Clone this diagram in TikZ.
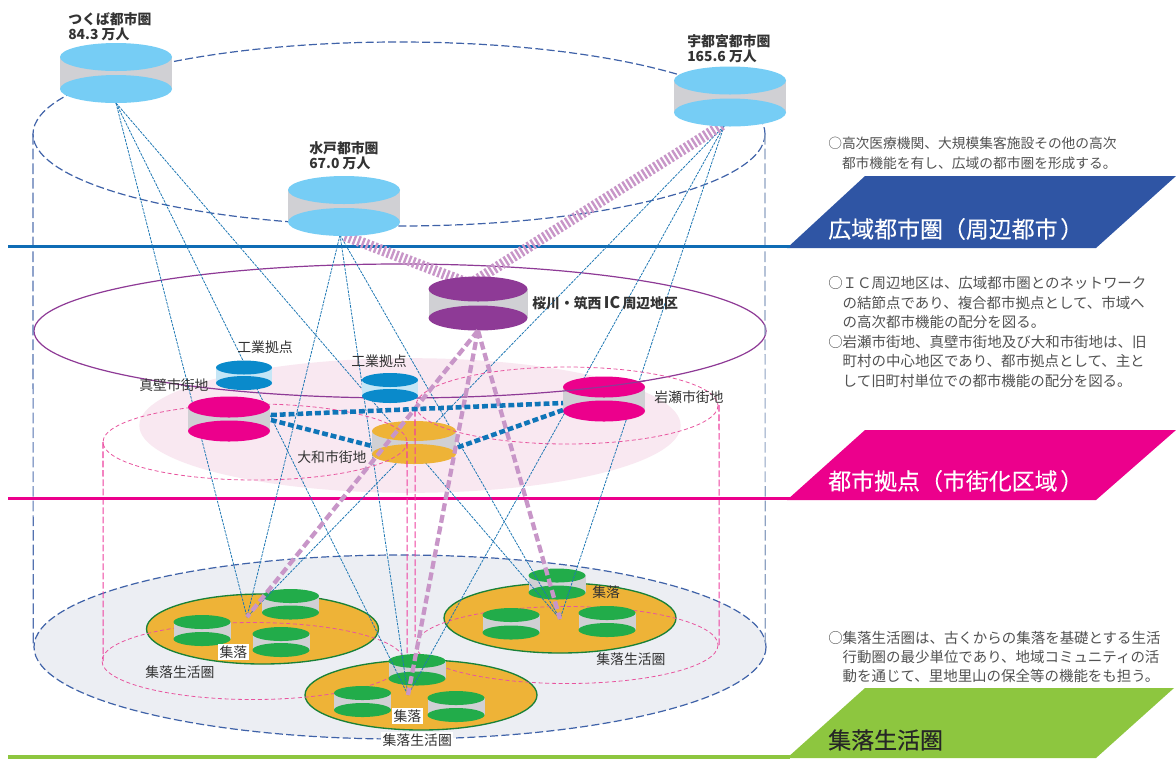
\documentclass[tikz,border=0pt]{standalone}
\usepackage{fontspec}
\setmainfont{Noto Sans CJK JP}
\newfontfamily\titlefont[FakeBold=0.25]{Noto Sans CJK JP}
\usetikzlibrary{shapes.geometric}
\pgfdeclarelayer{lbase}\pgfdeclarelayer{lgreen}\pgfdeclarelayer{llines}\pgfdeclarelayer{lcyl}\pgfdeclarelayer{lover}
\pgfsetlayers{lbase,lgreen,llines,lcyl,lover,main}
\definecolor{cblue}{HTML}{76CDF5}\definecolor{cside}{HTML}{D0D0D4}
\definecolor{cpurple}{HTML}{8E3A96}\definecolor{cind}{HTML}{0A8ACB}\definecolor{cindside}{HTML}{C5E6F6}
\definecolor{cmag}{HTML}{EC008C}\definecolor{corange}{HTML}{EEB337}\definecolor{cgreen}{HTML}{22AC4A}
\definecolor{cdash}{HTML}{3F62A8}\definecolor{cpink}{HTML}{E8559F}\definecolor{clink}{HTML}{1F78B4}
\definecolor{chatch}{HTML}{C896C8}\definecolor{cthick}{HTML}{0F75B8}\definecolor{ctxt}{HTML}{333333}
\definecolor{cbandblue}{HTML}{2F55A4}\definecolor{cbandgreen}{HTML}{8DC63F}\definecolor{cline}{HTML}{0F6CB5}
\definecolor{cplate}{HTML}{F9E8F1}\definecolor{cgray}{HTML}{ECEEF3}
\definecolor{csideL}{HTML}{5472B0}\definecolor{csideR}{HTML}{8EA2C2}\definecolor{cdrop}{HTML}{EE3F9F}
\tikzset{
 disc/.style={ellipse,inner sep=0pt,outer sep=0pt},
 biglabel/.style={inner sep=0pt,anchor=west,text=ctxt,font=\fontsize{10.4}{11.5}\selectfont\bfseries,align=left},
 smalllabel/.style={inner sep=0pt,anchor=west,text=ctxt,font=\fontsize{10.4}{12}\selectfont},
 whitelabel/.style={smalllabel,fill=white,inner sep=1pt},
 note/.style={inner sep=0pt,anchor=north west,align=left,text=ctxt!85!white},
 bandtitle/.style={inner sep=0pt,anchor=west,font=\fontsize{17.2}{20}\titlefont},
 thinlink/.style={draw=clink,line width=0.6pt,dash pattern=on 2pt off 0.8pt},
 hatch/.style={draw=chatch,line width=8pt,dash pattern=on 1.8pt off 1.6pt},
 purplelink/.style={draw=chatch,line width=3.2pt,dash pattern=on 6pt off 2.8pt},
 thicklink/.style={draw=cthick,line width=3.4pt,dash pattern=on 4.4pt off 2.2pt},
 bigring/.style={draw=cdash,line width=0.9pt,dash pattern=on 6pt off 2.5pt},
 pinkring/.style={draw=cpink,line width=0.6pt,dash pattern=on 3pt off 2pt},
 pinkdrop/.style={draw=cdrop,line width=0.8pt,dash pattern=on 5pt off 2pt},
 sideline/.style={line width=0.9pt,dash pattern=on 8pt off 3pt},
 hamlet/.style={disc,fill=corange,draw=cgreen!75!black,line width=1pt,minimum width=174pt,minimum height=52.5pt},
}
% name, cx, top cy, bottom cy, rx, ry, fill, side
\newcommand\cylinder[8]{%
 \fill[#8] ({#2-#5},#3) rectangle ({#2+#5},#4);
 \node[disc,fill=#7,minimum width={1.5*#5 pt},minimum height={1.5*#6 pt}] (#1-b) at (#2,#4) {};
 \node[disc,fill=#7,minimum width={1.5*#5 pt},minimum height={1.5*#6 pt}] (#1-t) at (#2,#3) {};
}
\begin{document}
\begin{tikzpicture}[x=0.75pt,y=-0.75pt]
\useasboundingbox (0,0) rectangle (1176,758);
\begin{pgfonlayer}{lbase}
\fill[white] (0,0) rectangle (1176,758);
% bottom level
\node[disc,fill=cgray,minimum width=549pt,minimum height=138pt,draw=none] (lowring) at (400,647) {};
\draw[bigring] (400,647) ellipse [x radius=366,y radius=92];
\node[hamlet] (hamL) at (262.5,629) {};
\node[hamlet] (hamR) at (560,618) {};
\node[hamlet] (hamB) at (421,695) {};
\draw[pinkring] (253,661) ellipse [x radius=151,y radius=38.5];
\draw[pinkring] (567,645) ellipse [x radius=151,y radius=38.5];
% middle level
\node[disc,fill=cplate,minimum width=406pt,minimum height=101pt] (cityplate) at (410,425.5) {};
\draw[draw=cpurple,line width=0.9pt] (400,331) ellipse [x radius=366,y radius=67];
% top level
\draw[bigring] (399,134) ellipse [x radius=366,y radius=92];
\draw[sideline,draw=csideL] (33,134) -- (33.2,647);
\draw[sideline,draw=csideR] (765,134) -- (765.2,647);
\draw[pinkdrop] (103,442) -- (103.2,661);
\draw[pinkdrop] (719,405) -- (719.2,645);
% bands
\fill[cbandblue] (865,176) -- (1176,176) -- (1096,248) -- (787,248) -- cycle;
\fill[cmag] (865,430) -- (1176,430) -- (1096,500) -- (787,500) -- cycle;
\fill[cbandgreen] (865,688) -- (1174,688) -- (1096,758) -- (787,758) -- cycle;
\draw[cline,line width=2.4pt] (8,246.5) -- (790,246.5);
\draw[cmag,line width=2.4pt] (8,498.5) -- (790,498.5);
\draw[cbandgreen,line width=2.4pt] (8,757) -- (790,757);
\end{pgfonlayer}
\begin{pgfonlayer}{lgreen}
\cylinder{ga}{290.5}{596}{612.5}{28.5}{7}{cgreen}{cside}
\cylinder{gb}{202}{622}{639}{28.5}{7}{cgreen}{cside}
\cylinder{gc}{281}{634}{650}{28.5}{7}{cgreen}{cside}
\cylinder{gd}{557}{575.5}{592.5}{28.5}{7}{cgreen}{cside}
\cylinder{ge}{511}{615}{632.5}{28.5}{7}{cgreen}{cside}
\cylinder{gf}{607}{613}{630}{28.5}{7}{cgreen}{cside}
\cylinder{gg}{417}{661}{678.5}{28.5}{7}{cgreen}{cside}
\cylinder{gh}{362.5}{693}{710}{28.5}{7}{cgreen}{cside}
\cylinder{gi}{456}{698}{715}{28.5}{7}{cgreen}{cside}
\end{pgfonlayer}
\begin{pgfonlayer}{lcyl}
\cylinder{tsukuba}{116}{57}{89}{56}{14}{cblue}{cside}
\cylinder{utsu}{730}{80.5}{112.5}{56}{14}{cblue}{cside}
\cylinder{mito}{344}{190}{222}{56}{14}{cblue}{cside}
\cylinder{ic}{478}{289}{318}{49.5}{12.5}{cpurple}{cside}
\cylinder{inda}{244}{367.5}{383}{28}{7}{cind}{cindside}
\cylinder{indb}{390}{380}{396}{28}{7}{cind}{cindside}
\cylinder{yamato}{414}{431}{454}{42}{10}{corange}{cside}
\draw[pinkring] (255,442) ellipse [x radius=152,y radius=38];
\draw[pinkring] (567,405.5) ellipse [x radius=151,y radius=38.5];
\draw[pinkdrop] (407,442) -- (407.2,653);
\draw[pinkdrop] (415,410) -- (415.2,637);
\cylinder{makabe}{229}{407}{431}{41}{10.5}{cmag}{cside}
\cylinder{iwase}{604}{387}{411}{41}{10.5}{cmag}{cside}
\begin{scope}
\clip (563,370) rectangle (645,400);
\draw[draw=cpurple,line width=0.9pt] (400,331) ellipse [x radius=366,y radius=67];
\end{scope}
\end{pgfonlayer}
% connector end points
\coordinate (hubL) at (247,617);
\coordinate (hubR) at (560,619);
\coordinate (hubB) at (408,695);
\coordinate (tsuOut) at (tsukuba-b.south);
\coordinate (utsuOut) at (724,126);
\coordinate (mitoOut) at (340,235);
\coordinate (icTop) at (470,284);
\coordinate (utsuHatch) at (722,125);
\coordinate (mitoHatch) at (345,236);
\coordinate (mkE) at (271,415);
\coordinate (mkS) at (271,420);
\coordinate (iwW) at (563,403);
\coordinate (iwS) at (563,410);
\coordinate (yaW) at (372,446);
\coordinate (yaE) at (456,448);
\begin{pgfonlayer}{llines}
\foreach \s in {tsuOut,mitoOut,utsuOut}{\foreach \h in {hubL,hubR,hubB}{\draw[thinlink] (\s) -- (\h);}}
\draw[hatch] (utsuHatch) -- (icTop);
\draw[hatch] (mitoHatch) -- (icTop);
\end{pgfonlayer}
\begin{pgfonlayer}{lover}
\foreach \h in {hubL,hubR,hubB}{\draw[purplelink] (ic-b.south) -- (\h);}
\draw[thicklink] (mkE) -- (iwW);
\draw[thicklink] (mkS) -- (yaW);
\draw[thicklink] (iwS) -- (yaE);
\end{pgfonlayer}
% labels
\node[biglabel] (lblTsukuba) at (68,26.5) {つくば都市圏\\84.3 万人};
\node[biglabel] (lblUtsu) at (687,49) {宇都宮都市圏\\165.6 万人};
\node[biglabel] (lblMito) at (309,156) {水戸都市圏\\67.0 万人};
\node[biglabel] (lblIc) at (532,303) {桜川・筑西\,{\fontsize{12}{12}\selectfont IC}\,周辺地区};
\node[smalllabel] (lblIndA) at (237,347) {工業拠点};
\node[smalllabel] (lblIndB) at (351,361) {工業拠点};
\node[smalllabel] (lblMakabe) at (139,385) {真壁市街地};
\node[smalllabel] (lblIwase) at (654,397) {岩瀬市街地};
\node[smalllabel] (lblYamato) at (297,457) {大和市街地};
\node[whitelabel] (lblHamL) at (218,652) {集落};
\node[smalllabel] (lblHamR) at (592,592) {集落};
\node[whitelabel] (lblHamB) at (392,716) {集落};
\node[smalllabel] (lblLifeL) at (145,672) {集落生活圏};
\node[smalllabel] (lblLifeR) at (596,659) {集落生活圏};
\node[whitelabel] (lblLifeB) at (381,740) {集落生活圏};
% notes
\node[note,font=\fontsize{10.3}{14.6}\selectfont] (noteA) at (828,137) {○高次医療機関、大規模集客施設その他の高次\\\hspace*{1em}都市機能を有し、広域の都市圏を形成する。};
\node[note,font=\fontsize{10.85}{14.65}\selectfont] (noteB) at (828,276) {○ＩＣ周辺地区は、広域都市圏とのネットワーク\\\hspace*{1em}の結節点であり、複合都市拠点として、市域へ\\\hspace*{1em}の高次都市機能の配分を図る。\\○岩瀬市街地、真壁市街地及び大和市街地は、旧\\\hspace*{1em}町村の中心地区であり、都市拠点として、主と\\\hspace*{1em}して旧町村単位での都市機能の配分を図る。};
\node[note,font=\fontsize{10.85}{14.3}\selectfont] (noteC) at (828,631) {○集落生活圏は、古くからの集落を基礎とする生活\\\hspace*{1em}行動圏の最少単位であり、地域コミュニティの活\\\hspace*{1em}動を通じて、里地里山の保全等の機能をも担う。};
% band titles
\node[bandtitle,text=white] (titleA) at (828,229) {広域都市圏（周辺都市\hspace{2pt}）};
\node[bandtitle,text=white] (titleB) at (828,481) {都市拠点（市街化区域\hspace{2pt}）};
\node[bandtitle,text=black!85] (titleC) at (828,740) {集落生活圏};
\end{tikzpicture}
\end{document}
